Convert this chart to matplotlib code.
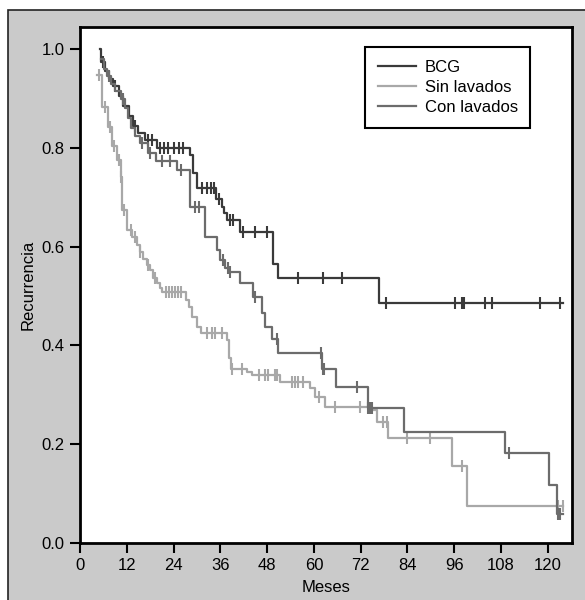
import numpy as np
import matplotlib
matplotlib.use('Agg')
import matplotlib.pyplot as plt
from matplotlib.patches import Rectangle

plt.rcParams['font.family'] = ['Liberation Sans', 'DejaVu Sans']

# BCG: tiempos de evento (meses) y supervivencia tras el escalón
bcg_t = [5.1, 5.5, 6.5, 7.5, 8.5, 10, 11, 12.5, 13.5, 15, 16.7, 19.7, 28.2, 29,
         30, 35, 36.4, 37, 37.8, 41, 49.6, 50.9, 76.7]
bcg_s = [1.0, 0.975, 0.955, 0.94, 0.925, 0.905, 0.885, 0.865, 0.845, 0.83, 0.816,
         0.80, 0.785, 0.75, 0.718, 0.696, 0.681, 0.668, 0.654, 0.630, 0.566, 0.536, 0.486]
bcg_cens = [6, 9, 14, 17.5, 18.5, 20.5, 21.5, 22.5, 24, 25.5, 26.5, 31.2, 32.5, 33.5,
            34.4, 35.7, 38.5, 39.3, 41.9, 44.9, 47.9, 56, 62.4, 67.2, 78.5, 96.3,
            98.0, 98.6, 104.0, 105.7, 118.1, 123.0]

# Sin lavados
sin_t = [4.3, 5.7, 7.1, 8.3, 9.4, 10.4, 10.9, 12.0, 13.3, 14.5, 15.4, 16.2, 17.1,
         18.0, 18.8, 19.7, 20.5, 21.0, 27.1, 28.0, 28.8, 30.0, 31.0, 37.6, 38.3,
         38.8, 42.8, 44.1, 51.3, 59.0, 60.3, 62.9, 75.0, 76.1, 79.1, 95.4, 99.2]
sin_s = [0.947, 0.883, 0.843, 0.804, 0.775, 0.742, 0.674, 0.634, 0.620, 0.603, 0.590,
         0.576, 0.563, 0.553, 0.536, 0.526, 0.516, 0.509, 0.492, 0.478, 0.458, 0.438,
         0.425, 0.411, 0.374, 0.353, 0.347, 0.340, 0.327, 0.313, 0.296, 0.276, 0.269,
         0.246, 0.212, 0.155, 0.074]
sin_cens = [4.8, 6.3, 7.8, 8.8, 10.0, 10.6, 11.4, 13.0, 14.0, 15.5, 17.5, 19.2, 22,
            22.8, 23.6, 24.4, 25.2, 26, 32.5, 33.8, 34.7, 36.4, 38.9, 41.5, 45.8, 47.5,
            48.3, 50, 50.5, 54.3, 55.2, 56.0, 57.3, 61.2, 65.5, 71.9, 77.7, 78.7, 83.9,
            89.8, 98, 122.5, 124]

# Con lavados
con_t = [5.3, 6.2, 7.0, 8.0, 9.0, 10.5, 11.5, 12.3, 13.0, 14.0, 15.5, 17.5, 19.5,
         24.8, 28.2, 32.1, 35.1, 36.0, 37.2, 38.2, 41, 44.5, 46.6, 47.5, 49.2, 50.9,
         62.2, 65.7, 73.8, 83, 109, 120.2, 122.3]
con_s = [0.98, 0.96, 0.945, 0.93, 0.915, 0.90, 0.88, 0.86, 0.84, 0.825, 0.81, 0.79,
         0.773, 0.755, 0.681, 0.62, 0.593, 0.573, 0.556, 0.549, 0.526, 0.499, 0.465,
         0.438, 0.414, 0.384, 0.353, 0.315, 0.273, 0.225, 0.183, 0.117, 0.058]
con_cens = [7.5, 11, 16, 18, 21, 23, 26, 29.5, 30.4, 36.8, 38, 38.5, 44.9, 50.5, 61.9,
            62.3, 62.6, 71, 73.9, 74.2, 74.5, 74.8, 110, 122.5, 123]

end_t = 124.0
series = [
    ('BCG', bcg_t, bcg_s, bcg_cens, '#3a3a3a'),
    ('Sin lavados', sin_t, sin_s, sin_cens, '#a8a8a8'),
    ('Con lavados', con_t, con_s, con_cens, '#6c6c6c'),
]

fig = plt.figure(figsize=(5.85, 6.0), dpi=100, facecolor='white')
# marco gris de fondo
marco = Rectangle((8 / 585, -0.1), 1.2, 1 - 10 / 600 + 0.1,
                  transform=fig.transFigure, facecolor='#cacaca',
                  edgecolor='#222222', linewidth=1.2, zorder=-10)
fig.add_artist(marco)

ax = fig.add_axes([80 / 585, 1 - 543 / 600, 492 / 585, 516 / 600])
ax.set_facecolor('white')

for name, t, s, cens, col in series:
    tt = np.append(t, end_t)
    ss = np.append(s, s[-1])
    ax.step(tt, ss, where='post', color=col, lw=1.6, label=name)
    idx = np.searchsorted(t, cens, side='right') - 1
    idx = np.clip(idx, 0, len(s) - 1)
    cy = np.array(s)[idx]
    ax.plot(cens, cy, ls='none', marker='|', ms=8, mew=1.5, color=col)

ax.set_xlim(0, 126.2)
ax.set_ylim(0, 1.045)
ax.set_xticks(np.arange(0, 121, 12))
ax.set_yticks(np.arange(0, 1.01, 0.2))
ax.set_yticklabels([f'{v:.1f}' for v in np.arange(0, 1.01, 0.2)])
ax.tick_params(direction='out', length=7, width=1.5, labelsize=12, colors='black',
               pad=4)
for sp in ax.spines.values():
    sp.set_linewidth(2)
    sp.set_color('black')

ax.set_xlabel('Meses', fontsize=12, labelpad=5)
ax.set_ylabel('Recurrencia', fontsize=12, labelpad=4)

leg = ax.legend(loc='upper right', bbox_to_anchor=(0.915, 0.961), fontsize=12,
                fancybox=False, edgecolor='black', framealpha=1, handlelength=2.3,
                handletextpad=0.5, borderpad=0.75, labelspacing=0.32,
                borderaxespad=0)
leg.get_frame().set_linewidth(1.5)

fig.savefig('out.png', dpi=100, facecolor=fig.get_facecolor())
